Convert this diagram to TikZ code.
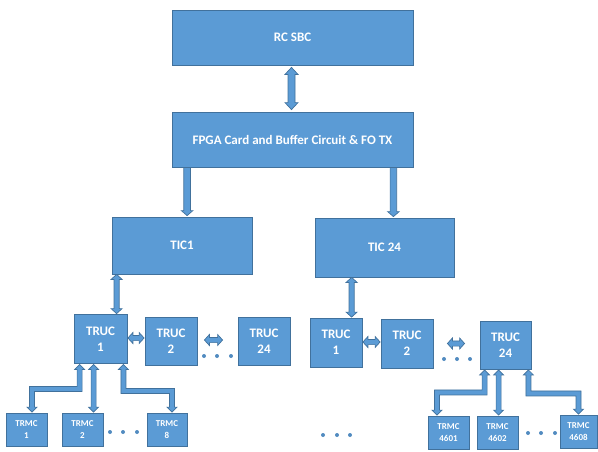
\documentclass[tikz,border=0pt]{standalone}
\usepackage{fontspec}
\setmainfont{Carlito}
\usetikzlibrary{calc}
\definecolor{boxfill}{HTML}{5B9BD5}
\definecolor{boxline}{HTML}{41719C}
\def\as{3pt}\def\ah{6pt}\def\al{6pt}
\newcommand\arrsize[3]{\def\as{#1}\def\ah{#2}\def\al{#3}}
% vertical double arrow: x and top y from #1, bottom y from #2
\newcommand\vdarrow[2]{\filldraw[arr] let \p1=#1,\p2=#2 in
  (\x1,\y1) -- (\x1+\ah,\y1-\al) -- (\x1+\as,\y1-\al) -- (\x1+\as,\y2+\al) -- (\x1+\ah,\y2+\al) -- (\x1,\y2)
  -- (\x1-\ah,\y2+\al) -- (\x1-\as,\y2+\al) -- (\x1-\as,\y1-\al) -- (\x1-\ah,\y1-\al) -- cycle;}
% vertical single arrow pointing down
\newcommand\vsarrow[2]{\filldraw[arr] let \p1=#1,\p2=#2 in
  (\x1-\as,\y1) -- (\x1+\as,\y1) -- (\x1+\as,\y2+\al) -- (\x1+\ah,\y2+\al) -- (\x1,\y2)
  -- (\x1-\ah,\y2+\al) -- (\x1-\as,\y2+\al) -- cycle;}
% horizontal double arrow: y and left x from #1, right x from #2
\newcommand\hdarrow[2]{\filldraw[arr] let \p1=#1,\p2=#2 in
  (\x1,\y1) -- (\x1+\al,\y1+\ah) -- (\x1+\al,\y1+\as) -- (\x2-\al,\y1+\as) -- (\x2-\al,\y1+\ah) -- (\x2,\y1)
  -- (\x2-\al,\y1-\ah) -- (\x2-\al,\y1-\as) -- (\x1+\al,\y1-\as) -- (\x1+\al,\y1-\ah) -- cycle;}
% elbow double arrow: #1 direction (1 right, -1 left), #2 start, #3 point giving middle y, #4 end
\newcommand\elbow[4]{\filldraw[arr] let \p1=#2,\p3=#3,\p2=#4 in
  (\x1,\y1) -- ({\x1-#1*\ah},{\y1-\al}) -- ({\x1-#1*\as},{\y1-\al}) -- ({\x1-#1*\as},{\y3-\as})
  -- ({\x2-#1*\as},{\y3-\as}) -- ({\x2-#1*\as},{\y2+\al}) -- ({\x2-#1*\ah},{\y2+\al}) -- (\x2,\y2)
  -- ({\x2+#1*\ah},{\y2+\al}) -- ({\x2+#1*\as},{\y2+\al}) -- ({\x2+#1*\as},{\y3+\as})
  -- ({\x1+#1*\as},{\y3+\as}) -- ({\x1+#1*\as},{\y1-\al}) -- ({\x1+#1*\ah},{\y1-\al}) -- cycle;}
\begin{document}
\begin{tikzpicture}[x=1pt,y=-1pt,
  box/.style={draw=boxline,fill=boxfill,line width=0.8pt,text=white,font=\bfseries\fontsize{13}{16}\selectfont,align=center,inner sep=0pt},
  small/.style={box,font=\bfseries\fontsize{9}{11.5}\selectfont},
  arr/.style={draw=boxline,fill=boxfill,line width=0.7pt,line join=miter},
  dot/.style={fill=boxfill!90!black}]
\useasboundingbox (0,0) rectangle (598,451);
% top boxes
\node[box,minimum width=241pt,minimum height=55pt] (rc) at (292.5,37.5) {RC SBC};
\node[box,minimum width=241pt,minimum height=55pt] (fpga) at (292.5,139.5) {FPGA Card and Buffer Circuit \& FO TX};
\node[box,minimum width=140pt,minimum height=57pt] (tic1) at (182,245.5) {TIC1};
\node[box,minimum width=139pt,minimum height=59pt] (tic24) at (384.5,247.5) {TIC 24};
% TRUC boxes
\node[box,minimum width=53pt,minimum height=49pt] (truc1L) at (100.5,339) {TRUC\\1};
\node[box,minimum width=52pt,minimum height=48pt] (truc2L) at (171,341) {TRUC\\2};
\node[box,minimum width=52pt,minimum height=48pt] (truc24L) at (264,341) {TRUC\\24};
\node[box,minimum width=52pt,minimum height=49pt] (truc1R) at (336,342.5) {TRUC\\1};
\node[box,minimum width=52pt,minimum height=49pt] (truc2R) at (407,343.5) {TRUC\\2};
\node[box,minimum width=51pt,minimum height=48pt] (truc24R) at (505.5,345) {TRUC\\24};
% TRMC boxes
\node[small,minimum width=41pt,minimum height=33pt] (trmc1) at (26.5,429.5) {TRMC\\1};
\node[small,minimum width=41pt,minimum height=33pt] (trmc2) at (82.5,429.5) {TRMC\\2};
\node[small,minimum width=40pt,minimum height=33pt] (trmc8) at (167,429.5) {TRMC\\8};
\node[small,minimum width=41pt,minimum height=33pt] (trmc4601) at (448.5,432.5) {TRMC\\4601};
\node[small,minimum width=41pt,minimum height=33pt] (trmc4602) at (497.5,432.5) {TRMC\\4602};
\node[small,minimum width=37pt,minimum height=33pt] (trmc4608) at (578.5,431.5) {TRMC\\4608};
% big arrows
\arrsize{3.5pt}{6.5pt}{7pt}
\vdarrow{($(rc.south)+(-1,2)$)}{($(fpga.north)+(0,-2)$)}
\arrsize{3.3pt}{5.8pt}{5pt}
\vsarrow{($(fpga.south west)+(15.5,0)$)}{($(tic1.north)+(0,-1)$)}
\vsarrow{($(fpga.south east)+(-20,0)$)}{($(tic24.north)+(0,-1)$)}
\arrsize{2.6pt}{5.5pt}{5pt}
\vdarrow{($(tic1.south west)+(5,0)$)}{($(truc1L.north)+(0,-0.5)$)}
\vdarrow{($(tic24.south west)+(37,0)$)}{($(truc1R.north)+(0,-0.5)$)}
% horizontal arrows
\hdarrow{($(truc1L.east)+(0.5,-1)$)}{($(truc2L.west)+(-0.5,0)$)}
\hdarrow{($(truc2L.east)+(7,-1)$)}{($(truc24L.west)+(-15,0)$)}
\hdarrow{($(truc1R.east)+(0.5,-0.5)$)}{($(truc2R.west)+(-0.5,0)$)}
\hdarrow{($(truc2R.east)+(14,0)$)}{($(truc24R.west)+(-15,0)$)}
% TRUC to TRMC arrows
\arrsize{2.5pt}{5pt}{5pt}
\elbow{-1}{($(truc1L.south west)+(6,0.5)$)}{($(truc1L.south)+(0,25)$)}{($(trmc1.north)+(5.5,-0.5)$)}
\vdarrow{($(truc1L.south west)+(20,0.5)$)}{($(trmc2.north)+(0,-0.5)$)}
\elbow{1}{($(truc1L.south east)+(-4,0.5)$)}{($(truc1L.south)+(0,27)$)}{($(trmc8.north)+(5,-0.5)$)}
\elbow{-1}{($(truc24R.south west)+(5,0.5)$)}{($(truc24R.south)+(0,23)$)}{($(trmc4601.north)+(-11.5,-0.5)$)}
\vdarrow{($(truc24R.south west)+(19,0.5)$)}{($(trmc4602.north)+(0,-0.5)$)}
\elbow{1}{($(truc24R.south east)+(-3,0.5)$)}{($(truc24R.south)+(0,24)$)}{($(trmc4608.north)+(0,-0.5)$)}
% dots
\foreach \x/\y in {204/356,217/356,231/356,444/359,457/359,470/359,110/432,123/432,137/432,323/435,337/435,350/435,528/433,541/433,555/433}
  \fill[dot] (\x,\y) circle (2pt);
\end{tikzpicture}
\end{document}
